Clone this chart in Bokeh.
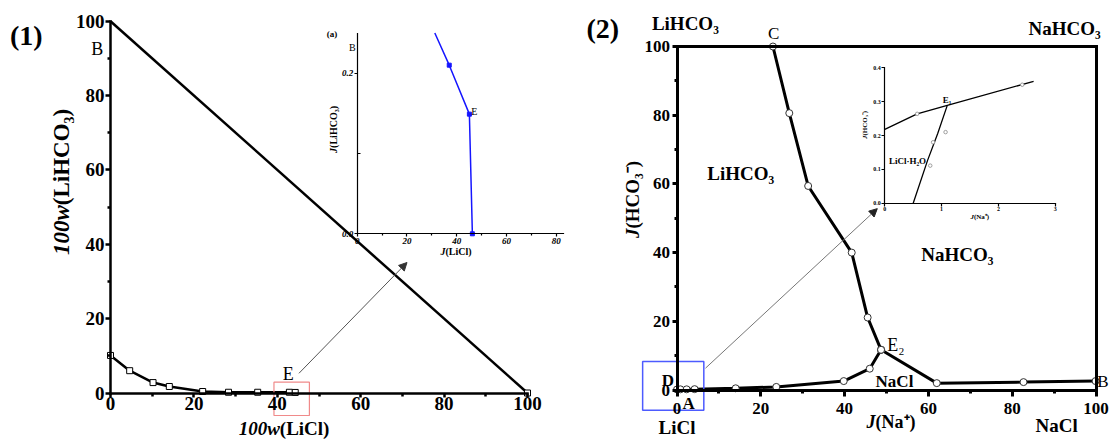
import math
from bokeh.plotting import figure
from bokeh.models import Range1d, LinearAxis, FixedTicker, Arrow, NormalHead, NumeralTickFormatter
from bokeh.core.properties import value
from bokeh.embed import file_html
from bokeh.resources import INLINE

# ---------------- data ----------------
# Panel (1): LiCl - LiHCO3 - H2O, mass fractions
p1_curve_x = [0.0, 4.6, 10.2, 14.1, 22.1, 28.3, 35.3, 42.9, 44.3]
p1_curve_y = [10.1, 6.0, 2.8, 1.75, 0.4, 0.2, 0.2, 0.2, 0.15]
p1_edge_x = [0, 100]
p1_edge_y = [100, 0]
p1_end_x = [100]
p1_end_y = [0]
p1_xticks = [0, 20, 40, 60, 80, 100]
p1_xminor = [10, 30, 50, 70, 90]
p1_yticks = [0, 20, 40, 60, 80, 100]
p1_yminor = [10, 30, 50, 70, 90]

# inset (a) of panel (1)
ia_line_x = [31.2, 37.0, 45.1, 46.3]
ia_line_y = [0.25, 0.210, 0.149, 0.0]
ia_pts_x = [37.0, 45.1, 46.3]
ia_pts_y = [0.210, 0.149, 0.0]
ia_xticks = [0, 20, 40, 60, 80]
ia_xminor = [10, 30, 50, 70]
ia_yticks = [0.0, 0.2]
ia_yminor = [0.1]

# Panel (2): Jaenecke index diagram
p2_ce_x = [22.9, 26.8, 31.3, 41.7, 45.5, 48.7]
p2_ce_y = [100.0, 80.6, 59.4, 40.0, 21.1, 11.7]
p2_de_x = [0.0, 0.8, 2.3, 4.2, 14.0, 23.7, 39.8, 46.0, 48.7]
p2_de_y = [0.15, 0.2, 0.2, 0.25, 0.5, 0.9, 2.6, 6.2, 11.7]
p2_eb_x = [48.7, 62.0, 82.7, 99.9]
p2_eb_y = [11.7, 2.0, 2.3, 2.6]
p2_xticks = [0, 20, 40, 60, 80, 100]
p2_xminor = [10, 30, 50, 70, 90]
p2_yticks = [0, 20, 40, 60, 80, 100]
p2_yminor = [10, 30, 50, 70, 90]

# inset of panel (2)
ib_l1_x = [0.0, 0.57, 1.10, 2.62]
ib_l1_y = [0.218, 0.264, 0.289, 0.360]
ib_l2_x = [0.50, 0.75, 0.93, 1.10]
ib_l2_y = [0.0, 0.125, 0.205, 0.289]
ib_pts_x = [0.57, 0.80, 0.85, 1.07, 2.42]
ib_pts_y = [0.264, 0.111, 0.180, 0.210, 0.350]
ib_xticks = [0, 1, 2, 3]
ib_yticks = [0.0, 0.1, 0.2, 0.3, 0.4]

# ---------------- layout helpers ----------------
W, H = 1110, 439
CL, CR, CT, CB = 0, W, 0, H   # canvas edges in picture pixels


def span(p0, p1, v0, v1, c0, c1):
    s = (p1 - p0) / (v1 - v0)
    return Range1d(start=v0 + (c0 - p0) / s, end=v0 + (c1 - p0) / s)


FONT = value("Liberation Serif")

p = figure(width=W, height=H,
           x_range=span(110, 527, 0, 100, CL, CR),
           y_range=span(392.5, 20.7, 0, 100, CB, CT),
           x_axis_type=None, y_axis_type=None, title=None,
           toolbar_location=None, output_backend="svg",
           min_border=0, outline_line_color=None,
           background_fill_color="white", border_fill_color="white")

p.extra_x_ranges = {
    "x2": span(676.5, 1095.5, 0, 100, CL, CR),
    "xa": span(356.7, 555.7, 0, 80, CL, CR),
    "xb": span(884.3, 1054.7, 0, 3, CL, CR),
}
p.extra_y_ranges = {
    "y2": span(389.5, 46.0, 0, 100, CB, CT),
    "ya": span(233.3, 72.7, 0.0, 0.2, CB, CT),
    "yb": span(202.7, 67.3, 0.0, 0.4, CB, CT),
}


def add_axis(side, xr, yr, loc, bounds, ticks, minor, size, lw, tout, mout,
             standoff, fmt=None, tin=0, min_in=0, labels=True, style="bold"):
    ax = LinearAxis(x_range_name=xr, y_range_name=yr, fixed_location=loc,
                    bounds=bounds, axis_label=None)
    ax.ticker = FixedTicker(ticks=ticks, minor_ticks=minor)
    if fmt is not None:
        ax.formatter = fmt
    ax.axis_line_width = lw
    ax.axis_line_cap = "square"
    ax.major_tick_line_width = lw
    ax.minor_tick_line_width = lw
    ax.major_tick_out = tout
    ax.major_tick_in = tin
    ax.minor_tick_out = mout
    ax.minor_tick_in = min_in
    ax.major_label_text_font = "Liberation Serif"
    ax.major_label_text_font_style = style
    ax.major_label_text_font_size = f"{size}px"
    ax.major_label_text_color = "black" if labels else None
    ax.major_label_standoff = standoff
    p.add_layout(ax, side)
    return ax


def label(x, y, s, size, style="bold", align="center", baseline="middle",
          angle=0.0, xr="default", yr="default", color="black"):
    p.text(x=[x], y=[y], text=[s], text_font=FONT, text_font_style=style,
           text_font_size=f"{size}px", text_align=align,
           text_baseline=baseline, angle=angle, text_color=color,
           x_range_name=xr, y_range_name=yr)


# ---------------- panel (1) ----------------
add_axis("below", "default", "default", 0, (0, 100), p1_xticks, p1_xminor,
         19, 2.5, 4, 3, 0)
add_axis("left", "default", "default", 0, (0, 100), p1_yticks, p1_yminor,
         19, 2.5, 5, 3, 1)

p.line(p1_edge_x, p1_edge_y, line_color="black", line_width=2.5)
p.line(p1_curve_x, p1_curve_y, line_color="black", line_width=2.5)
p.scatter(p1_curve_x, p1_curve_y, marker="square", size=6,
          fill_color="white", line_color="black", line_width=1)
p.scatter(p1_end_x, p1_end_y, marker="square", size=6,
          fill_color="white", line_color="black", line_width=1)

p.quad(left=[39.2], right=[47.7], bottom=[-6.05], top=[2.9],
       fill_color=None, line_color="#f08a8a", line_width=1.2)
p.add_layout(Arrow(end=NormalHead(size=8, fill_color="#333", line_color="#333"),
                   x_start=45.2, y_start=5.3, x_end=71.1, y_end=35.1,
                   line_color="#555", line_width=1))

label(-20.2, 96.2, "(1)", 28)
label(-3.2, 92.6, "B", 18, style="normal")
label(42.6, 5.2, "E", 18, style="normal")
label(40.6, -9.6, "100w", 19, style="bold italic", align="right")
label(40.6, -9.6, "(LiCl)", 19, align="left")
label(-11.8, 50.5, "100w", 23, style="bold italic", align="right",
      angle=math.pi / 2)
label(-11.8, 50.5, "(LiHCO\u2083)", 23, align="left", angle=math.pi / 2)

# ---------------- inset (a) ----------------
add_axis("below", "xa", "ya", 0.0, (0, 83), ia_xticks, ia_xminor,
         9, 1.2, 3, 2, 1, style="bold italic")
add_axis("left", "xa", "ya", 0.0, (0, 0.25), ia_yticks, ia_yminor,
         9, 1.2, 3, 0, 1, fmt=NumeralTickFormatter(format="0.0"),
         min_in=3, style="bold italic")
p.line(ia_line_x, ia_line_y, line_color="#1515ff", line_width=1.5,
       x_range_name="xa", y_range_name="ya")
p.scatter(ia_pts_x, ia_pts_y, marker="square", size=4, fill_color="#1515ff",
          line_color="#1515ff", x_range_name="xa", y_range_name="ya")
label(-10.1, 0.249, "(a)", 9, xr="xa", yr="ya")
label(-2.0, 0.232, "B", 10, style="normal", xr="xa", yr="ya")
label(45.8, 0.152, "E", 10, style="normal", align="left", xr="xa", yr="ya")
label(-9.5, 0.107, "J", 10, style="bold italic", align="right",
      angle=math.pi / 2, xr="xa", yr="ya")
label(-9.5, 0.107, "(LiHCO\u2083)", 10, align="left",
      angle=math.pi / 2, xr="xa", yr="ya")
label(35.5, -0.0215, "J", 10, style="bold italic", align="right",
      xr="xa", yr="ya")
label(35.5, -0.0215, "(LiCl)", 10, align="left", xr="xa", yr="ya")

# ---------------- panel (2) ----------------
add_axis("below", "x2", "y2", 0, (0, 100), p2_xticks, p2_xminor,
         17, 3, 6, 3, 7)
add_axis("left", "x2", "y2", 0, (0, 100), p2_yticks, p2_yminor,
         17, 3, 5, 3, 2)
add_axis("above", "x2", "y2", 100, (0, 100), [], [], 1, 3, 0, 0, 0,
         labels=False)
add_axis("right", "x2", "y2", 100, (0, 100), [], [], 1, 3, 0, 0, 0,
         labels=False)

for xs, ys in ((p2_ce_x, p2_ce_y), (p2_de_x, p2_de_y), (p2_eb_x, p2_eb_y)):
    p.line(xs, ys, line_color="black", line_width=3,
           x_range_name="x2", y_range_name="y2")
for xs, ys in ((p2_ce_x, p2_ce_y), (p2_de_x, p2_de_y), (p2_eb_x, p2_eb_y)):
    p.scatter(xs, ys, marker="circle", size=7, fill_color="white",
              line_color="#333", line_width=1,
              x_range_name="x2", y_range_name="y2")

p.quad(left=[-8.2], right=[6.4], bottom=[-5.9], top=[8.3],
       fill_color=None, line_color="#4d5bff", line_width=1.5,
       x_range_name="x2", y_range_name="y2")
p.add_layout(Arrow(end=NormalHead(size=8, fill_color="#222", line_color="#222"),
                   x_start=6.8, y_start=6.35, x_end=47.8, y_end=52.8,
                   line_color="#777", line_width=1,
                   x_range_name="x2", y_range_name="y2"))

R2 = dict(xr="x2", yr="y2")
label(-17.7, 105.3, "(2)", 28, **R2)
label(2.0, 106.7, "LiHCO\u2083", 19, **R2)
label(92.5, 105.2, "NaHCO\u2083", 19, **R2)
label(23.1, 103.7, "C", 17, style="normal", **R2)
label(15.2, 63.0, "LiHCO\u2083", 19, **R2)
label(66.9, 39.4, "NaHCO\u2083", 19, **R2)
label(50.2, 13.2, "E\u2082", 18, style="normal", align="left", **R2)
label(51.9, 2.5, "NaCl", 17, **R2)
label(100.3, 2.5, "B", 17, style="normal", align="left", **R2)
label(-2.2, 2.8, "D", 17, **R2)
label(2.8, -3.8, "A", 17, **R2)
label(0.0, -10.8, "LiCl", 19, **R2)
label(90.6, -10.3, "NaCl", 19, **R2)
label(47.4, -9.3, "J", 18, style="bold italic", align="right", **R2)
label(47.4, -9.3, "(Na\u207a)", 18, align="left", **R2)
label(-10.6, 47.0, "J", 19, style="bold italic", align="right",
      angle=math.pi / 2, **R2)
label(-10.6, 47.0, "(HCO\u2083\u207b)", 19, align="left",
      angle=math.pi / 2, **R2)

# ---------------- inset of panel (2) ----------------
add_axis("below", "xb", "yb", 0.0, (0, 3), ib_xticks, [],
         6, 1.2, 3, 0, 1)
add_axis("left", "xb", "yb", 0.0, (0, 0.4), ib_yticks, [],
         6, 1.2, 3, 0, 1, fmt=NumeralTickFormatter(format="0.0"))
p.line(ib_l1_x, ib_l1_y, line_color="black", line_width=1.3,
       x_range_name="xb", y_range_name="yb")
p.line(ib_l2_x, ib_l2_y, line_color="black", line_width=1.3,
       x_range_name="xb", y_range_name="yb")
p.scatter(ib_pts_x, ib_pts_y, marker="circle", size=3.5, fill_color="white",
          line_color="#888", line_width=0.8, x_range_name="xb", y_range_name="yb")
RB = dict(xr="xb", yr="yb")
label(1.095, 0.306, "E\u2081", 9, **RB)
label(0.40, 0.126, "LiCl\u00b7H\u2082O", 9, **RB)
label(-0.34, 0.20, "J", 7, style="bold italic", align="right",
      angle=math.pi / 2, **RB)
label(-0.34, 0.20, "(HCO\u2083\u207b)", 7, align="left", angle=math.pi / 2, **RB)
label(1.57, -0.041, "J", 7, style="bold italic", align="right", **RB)
label(1.57, -0.041, "(Na\u207a)", 7, align="left", **RB)

open("out.html", "w").write(file_html(p, INLINE))
